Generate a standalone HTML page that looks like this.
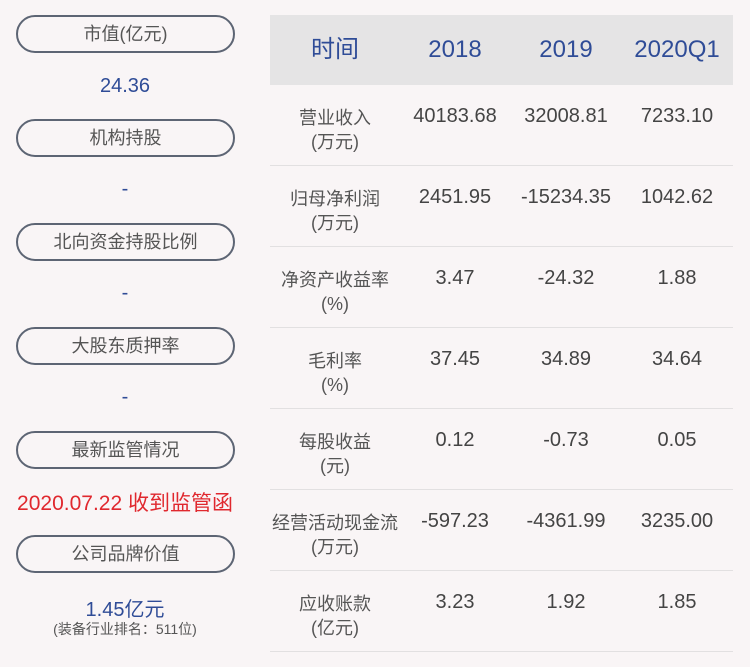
<!DOCTYPE html>
<html><head><meta charset="utf-8"><style>
body{margin:0;width:750px;height:667px;background:#f9f5f6;position:relative;overflow:hidden;font-family:"Liberation Sans","Noto Sans CJK SC",sans-serif}
.p{position:absolute;left:16px;width:215px;height:34px;border:2px solid #5d6574;border-radius:19px;text-align:center;line-height:34px;font-size:18px;color:#555}
.v{position:absolute;left:0;width:250px;text-align:center;font-size:20px;color:#2f4c97}
.t{position:absolute;text-align:center;font-size:18px;color:#555;line-height:24px}
.h{position:absolute;left:270px;top:15px;width:463px;height:70px;background:#e5e4e5}
.hh{position:absolute;top:15px;height:70px;line-height:70px;font-size:24px;color:#2f4c97;text-align:center}
.l{position:absolute;left:270px;width:463px;height:1px;background:#e2e0e1}
.n{position:absolute;width:120px;text-align:center;font-size:20px;color:#444}
</style></head><body>
<div class="p" style="top:15px">市值(亿元)</div>
<div class="v" style="top:75px">24.36</div>
<div class="p" style="top:119px">机构持股</div>
<div class="v" style="top:178px">-</div>
<div class="p" style="top:223px">北向资金持股比例</div>
<div class="v" style="top:282px">-</div>
<div class="p" style="top:327px">大股东质押率</div>
<div class="v" style="top:386px">-</div>
<div class="p" style="top:431px">最新监管情况</div>
<div class="v" style="top:487px;color:#e0282e;font-size:21px">2020.07.22 收到监管函</div>
<div class="p" style="top:535px">公司品牌价值</div>
<div class="v" style="top:593px">1.45亿元</div>
<div class="v" style="top:619px;font-size:14px;color:#555">(装备行业排名：511位)</div>

<div class="h"></div>
<div class="hh" style="left:275px;width:120px">时间</div>
<div class="hh" style="left:395px;width:120px">2018</div>
<div class="hh" style="left:506px;width:120px">2019</div>
<div class="hh" style="left:617px;width:120px">2020Q1</div>

<div class="l" style="top:165px"></div>
<div class="l" style="top:246px"></div>
<div class="l" style="top:327px"></div>
<div class="l" style="top:408px"></div>
<div class="l" style="top:489px"></div>
<div class="l" style="top:570px"></div>
<div class="l" style="top:651px"></div>

<div class="t" style="left:270px;width:130px;top:106px">营业收入<br>(万元)</div>
<div class="n" style="left:395px;top:105px">40183.68</div><div class="n" style="left:506px;top:105px">32008.81</div><div class="n" style="left:617px;top:105px">7233.10</div>

<div class="t" style="left:270px;width:130px;top:187px">归母净利润<br>(万元)</div>
<div class="n" style="left:395px;top:186px">2451.95</div><div class="n" style="left:506px;top:186px">-15234.35</div><div class="n" style="left:617px;top:186px">1042.62</div>

<div class="t" style="left:270px;width:130px;top:268px">净资产收益率<br>(%)</div>
<div class="n" style="left:395px;top:267px">3.47</div><div class="n" style="left:506px;top:267px">-24.32</div><div class="n" style="left:617px;top:267px">1.88</div>

<div class="t" style="left:270px;width:130px;top:349px">毛利率<br>(%)</div>
<div class="n" style="left:395px;top:348px">37.45</div><div class="n" style="left:506px;top:348px">34.89</div><div class="n" style="left:617px;top:348px">34.64</div>

<div class="t" style="left:270px;width:130px;top:430px">每股收益<br>(元)</div>
<div class="n" style="left:395px;top:429px">0.12</div><div class="n" style="left:506px;top:429px">-0.73</div><div class="n" style="left:617px;top:429px">0.05</div>

<div class="t" style="left:268px;width:134px;top:511px">经营活动现金流<br>(万元)</div>
<div class="n" style="left:395px;top:510px">-597.23</div><div class="n" style="left:506px;top:510px">-4361.99</div><div class="n" style="left:617px;top:510px">3235.00</div>

<div class="t" style="left:270px;width:130px;top:592px">应收账款<br>(亿元)</div>
<div class="n" style="left:395px;top:591px">3.23</div><div class="n" style="left:506px;top:591px">1.92</div><div class="n" style="left:617px;top:591px">1.85</div>
</body></html>
